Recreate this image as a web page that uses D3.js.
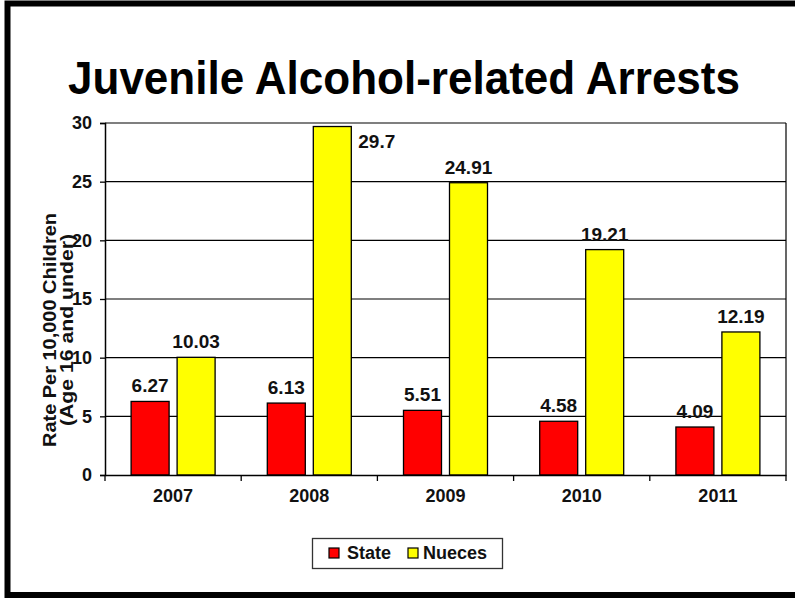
<!DOCTYPE html>
<html><head><meta charset="utf-8">
<script src="https://cdn.jsdelivr.net/npm/d3@7"></script>
<style>body{margin:0;background:#fff;} svg{display:block;font-family:"Liberation Sans",Arial,sans-serif;}</style>
</head><body>
<script>
const categories = ["2007","2008","2009","2010","2011"];
const stateValues = [6.27, 6.13, 5.51, 4.58, 4.09];
const nuecesValues = [10.03, 29.7, 24.91, 19.21, 12.19];
const yTicks = [0,5,10,15,20,25,30];
const seriesNames = ["State","Nueces"];
const seriesColors = ["#ff0000","#ffff00"];

const W=795,H=598;
const svg=d3.select("body").append("svg").attr("width",W).attr("height",H);
svg.append("rect").attr("x",0).attr("y",0).attr("width",W).attr("height",H).attr("fill","#fff");
// frame
svg.append("rect").attr("x",7.5).attr("y",3.5).attr("width",W+10).attr("height",591.5)
  .attr("fill","none").attr("stroke","#000").attr("stroke-width",6);

svg.append("text").attr("x",68).attr("y",94).attr("font-size",46).attr("font-weight","bold")
  .attr("textLength",672).attr("lengthAdjust","spacingAndGlyphs").text("Juvenile Alcohol-related Arrests");

const L=105,R=786,T=123,B=475;
const x=d3.scaleBand().domain(categories).range([L,R]);
const y=d3.scaleLinear().domain([0,30]).range([B,T]);

// gridlines
svg.append("g").selectAll("line").data(yTicks.filter(d=>d>0)).join("line")
  .attr("x1",L).attr("x2",R).attr("y1",d=>y(d)).attr("y2",d=>y(d)).attr("stroke","#000").attr("stroke-width",1.2);
svg.append("line").attr("x1",R).attr("x2",R).attr("y1",T).attr("y2",B).attr("stroke","#000").attr("stroke-width",1.2);

const bw=38, gap=8;
const data=categories.map((c,i)=>({c,v:[stateValues[i],nuecesValues[i]]}));
const g=svg.append("g");
data.forEach(d=>{
  const cx=x(d.c)+x.bandwidth()/2;
  d.v.forEach((v,j)=>{
    const bx = j===0 ? cx-gap/2-bw : cx+gap/2;
    g.append("rect").attr("x",bx).attr("y",y(v)).attr("width",bw).attr("height",B-y(v))
      .attr("fill",seriesColors[j]).attr("stroke","#000").attr("stroke-width",1.3);
    const lbl=g.append("text").attr("font-size",19).attr("font-weight","bold").attr("fill","#111").text(String(v));
    if(v>=29){
      lbl.attr("x",bx+bw+7).attr("y",y(v)+21).attr("text-anchor","start");
    } else {
      lbl.attr("x",bx+bw/2).attr("y",y(v)-9).attr("text-anchor","middle");
    }
  });
});

// axes
const ya=d3.axisLeft(y).tickValues(yTicks).tickSize(5).tickPadding(8);
const yg=svg.append("g").attr("transform",`translate(${L},0)`).call(ya);
yg.select(".domain").attr("stroke","#000").attr("stroke-width",1.5);
yg.selectAll(".tick line").attr("stroke","#000").attr("stroke-width",1.3);
yg.selectAll("text").attr("font-size",18).attr("font-weight","bold").attr("font-family","Liberation Sans, Arial, sans-serif").attr("fill","#111");

const xa=d3.axisBottom(x).tickSize(0).tickPadding(14);
const xg=svg.append("g").attr("transform",`translate(0,${B})`).call(xa);
xg.select(".domain").attr("stroke","#000").attr("stroke-width",1.5);
xg.selectAll("text").attr("font-size",18).attr("font-weight","bold").attr("font-family","Liberation Sans, Arial, sans-serif").attr("fill","#111");
// category separators ticks
xg.selectAll("line.sep").data(d3.range(categories.length+1)).join("line").attr("class","sep")
  .attr("x1",i=>L+i*x.bandwidth()).attr("x2",i=>L+i*x.bandwidth()).attr("y1",0).attr("y2",6)
  .attr("stroke","#000").attr("stroke-width",1.3);

// y title (two lines)
const yTitle=[{t:"Rate Per 10,000 Children",y:56,len:234},{t:"(Age 16 and under)",y:73,len:192}];
yTitle.forEach(l=>{
  svg.append("text").attr("transform","translate(0,330) rotate(-90)").attr("text-anchor","middle")
    .attr("x",0).attr("y",l.y).attr("font-size",19).attr("font-weight","bold").attr("fill","#111")
    .attr("textLength",l.len).attr("lengthAdjust","spacingAndGlyphs").text(l.t);
});

// legend
const lg=svg.append("g");
lg.append("rect").attr("x",312.5).attr("y",538.5).attr("width",190).attr("height",30).attr("fill","#fff").attr("stroke","#333").attr("stroke-width",1.3);
const litems=[{x:329,tx:347},{x:408,tx:423}];
seriesNames.forEach((n,i)=>{
  lg.append("rect").attr("x",litems[i].x).attr("y",548).attr("width",10).attr("height",10).attr("fill",seriesColors[i]).attr("stroke","#000").attr("stroke-width",1.2);
  lg.append("text").attr("x",litems[i].tx).attr("y",559).attr("font-size",18).attr("font-weight","bold").attr("fill","#111").text(n);
});
</script>
</body></html>
